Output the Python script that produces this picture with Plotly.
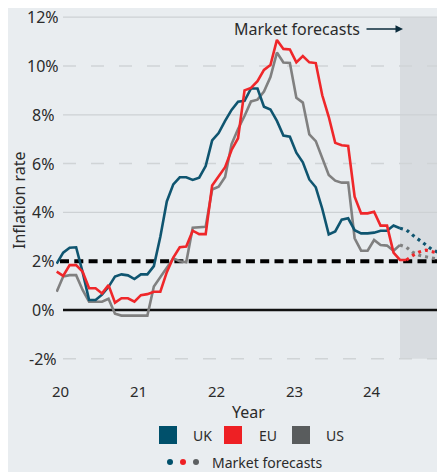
import plotly.graph_objects as go

# monthly inflation readings (%), starting Nov 2019
uk = [1.90, 2.35, 2.55, 2.57, 1.55, 0.41, 0.41, 0.63, 0.95, 1.37,
      1.46, 1.42, 1.27, 1.46, 1.46, 1.80, 3.00, 4.45, 5.15, 5.44,
      5.44, 5.33, 5.42, 5.90, 6.95, 7.25, 7.75, 8.20, 8.54, 8.57,
      9.08, 9.08, 8.33, 8.22, 7.75, 7.15, 7.10, 6.45, 6.05, 5.35,
      5.03, 4.15, 3.10, 3.22, 3.70, 3.76, 3.27, 3.14, 3.14, 3.17,
      3.25, 3.25, 3.46, 3.35]
eu = [1.57, 1.40, 1.84, 1.84, 1.57, 0.89, 0.89, 0.68, 1.02, 0.30,
      0.48, 0.48, 0.34, 0.61, 0.65, 0.75, 0.75, 1.55, 2.15, 2.57,
      2.60, 3.25, 3.11, 3.11, 5.10, 5.45, 5.85, 6.56, 7.04, 9.00,
      9.10, 9.38, 9.84, 10.04, 11.07, 10.70, 10.68, 10.15, 10.41, 10.15,
      10.12, 8.80, 7.92, 6.85, 6.75, 6.72, 4.64, 3.96, 3.96, 4.03,
      3.46, 3.46, 2.35, 2.05, 2.05]
us = [0.75, 1.37, 1.43, 1.43, 0.82, 0.34, 0.34, 0.34, 0.46, -0.15,
      -0.23, -0.23, -0.23, -0.23, -0.23, 0.96, 1.35, 1.78, 2.12, 2.00,
      1.96, 3.37, 3.40, 3.41, 4.94, 5.05, 5.45, 6.80, 7.42, 7.95,
      8.55, 8.62, 8.95, 9.55, 10.55, 10.14, 10.12, 8.70, 8.50, 7.20,
      6.92, 6.20, 5.53, 5.30, 5.22, 5.22, 2.94, 2.43, 2.43, 2.87,
      2.66, 2.64, 2.43, 2.66]

# market forecasts, continuing from the last actual reading
uk_fc = [3.35, 3.28, 3.06, 2.86, 2.68, 2.47, 2.35, 2.28]
eu_fc = [2.05, 2.24, 2.38, 2.45, 2.39, 2.31, 2.24]
us_fc = [2.66, 2.57, 2.36, 2.24, 2.18, 2.12, 2.07, 2.04]

year_labels = ["20", "21", "22", "23", "24"]
y_ticks = [12, 10, 8, 6, 4, 2, 0, -2]

col = {"UK": "#0f5570", "EU": "#ef272a", "US": "#808080"}
legend_col = {"UK": "#00506b", "EU": "#ee2024", "US": "#595c5d"}
TXT = "#2b2b2b"
FONT = "Noto Sans"

# page puts the figure 8px in from the top-left corner
PAD = 8
FIG_W, FIG_H = 445 - PAD, 472 - PAD
# plot area in page pixels
L, W, T, H = 56, 389, 10, 356


def fx(p):
    return (p - L) / W


def fy(p):
    return (T + H - p) / H


def label(x, y, text, size, xref="paper", yref="paper", xanchor="center", **kw):
    return dict(x=x, y=y, xref=xref, yref=yref, text=text, showarrow=False,
                xanchor=xanchor, yanchor="middle",
                font=dict(size=size, color=TXT), **kw)


fig = go.Figure()

series = [("US", us, us_fc), ("UK", uk, uk_fc), ("EU", eu, eu_fc)]
for name, vals, fc in series:
    fig.add_trace(go.Scatter(
        x=list(range(len(vals))), y=vals, mode="lines", name=name,
        line=dict(color=col[name], width=2.6), showlegend=False,
        hoverinfo="skip"))
    start = len(vals) - 1
    fig.add_trace(go.Scatter(
        x=list(range(start, start + len(fc))), y=fc, mode="lines",
        line=dict(color=col[name], width=3.2, dash="3px,4px"),
        showlegend=False, hoverinfo="skip"))

shapes = []
# forecast shading
shapes.append(dict(type="rect", xref="paper", yref="y", x0=fx(400), x1=1,
                   y0=-2, y1=12, fillcolor="#d8dce0", line_width=0, layer="below"))
# grid lines
for v in [12, 8, 4]:
    shapes.append(dict(type="line", xref="paper", yref="y", x0=fx(63), x1=1,
                       y0=v, y1=v, line=dict(color="#cdd1d4", width=1.3), layer="below"))
for v in [10, 6, -2]:
    shapes.append(dict(type="line", xref="paper", yref="y", x0=fx(63), x1=1,
                       y0=v, y1=v, line=dict(color="#d0d4d6", width=1.5, dash="13px,15px"),
                       layer="below"))
shapes.append(dict(type="line", xref="paper", yref="y", x0=fx(63), x1=1, y0=0, y1=0,
                   line=dict(color="#111111", width=2.4), layer="below"))
shapes.append(dict(type="line", xref="paper", yref="y", x0=fx(60), x1=1, y0=2, y1=2,
                   line=dict(color="#000000", width=4, dash="9px,5.3px"), layer="below"))

# legend squares
for name, x0 in [("UK", 159), ("EU", 224), ("US", 292)]:
    shapes.append(dict(type="rect", xref="paper", yref="paper",
                       x0=fx(x0), x1=fx(x0 + 18), y0=fy(444), y1=fy(426),
                       fillcolor=legend_col[name], line_width=0))
# forecast dots
for name, cx in [("UK", 170), ("EU", 183), ("US", 196)]:
    c = "#5d6062" if name == "US" else legend_col[name]
    shapes.append(dict(type="circle", xref="paper", yref="paper",
                       x0=fx(cx - 3), x1=fx(cx + 3), y0=fy(465), y1=fy(459),
                       fillcolor=c, line_width=0))

ann = []
for v in y_ticks:
    ann.append(label(fx(43), v, f"{v}%", 16, yref="y", height=16))
for k, lab in enumerate(year_labels):
    ann.append(label(0.66 + 12 * k, fy(391), lab, 15, xref="x"))
ann.append(label(fx(248), fy(412), "Year", 16))
ann.append(label(fx(19), fy(200), "Inflation rate", 16, textangle=-90))
for name, x0 in [("UK", 191), ("EU", 257), ("US", 324)]:
    ann.append(label(fx(x0), fy(435), name, 14, xanchor="left"))
ann.append(label(fx(210), fy(462), "Market forecasts", 14, xanchor="left"))
ann.append(label(fx(297), fy(29), "Market forecasts", 16))
ann.append(dict(x=fx(403), y=fy(29), xref="paper", yref="paper", text="",
                showarrow=True, ax=-38, ay=0, arrowhead=2, arrowsize=1,
                arrowwidth=1.5, arrowcolor="#0c2d3d"))

fig.update_layout(
    width=FIG_W, height=FIG_H,
    margin=dict(l=L - PAD, r=445 - L - W, t=T - PAD, b=472 - T - H),
    paper_bgcolor="#e9edf0", plot_bgcolor="rgba(0,0,0,0)",
    font=dict(family=FONT, color=TXT),
    shapes=shapes, annotations=ann, showlegend=False,
    xaxis=dict(range=[-0.108, 59.95], visible=False, fixedrange=True),
    yaxis=dict(range=[-2.295, 12.295], visible=False, fixedrange=True),
)

fig.write_html("out.html")
